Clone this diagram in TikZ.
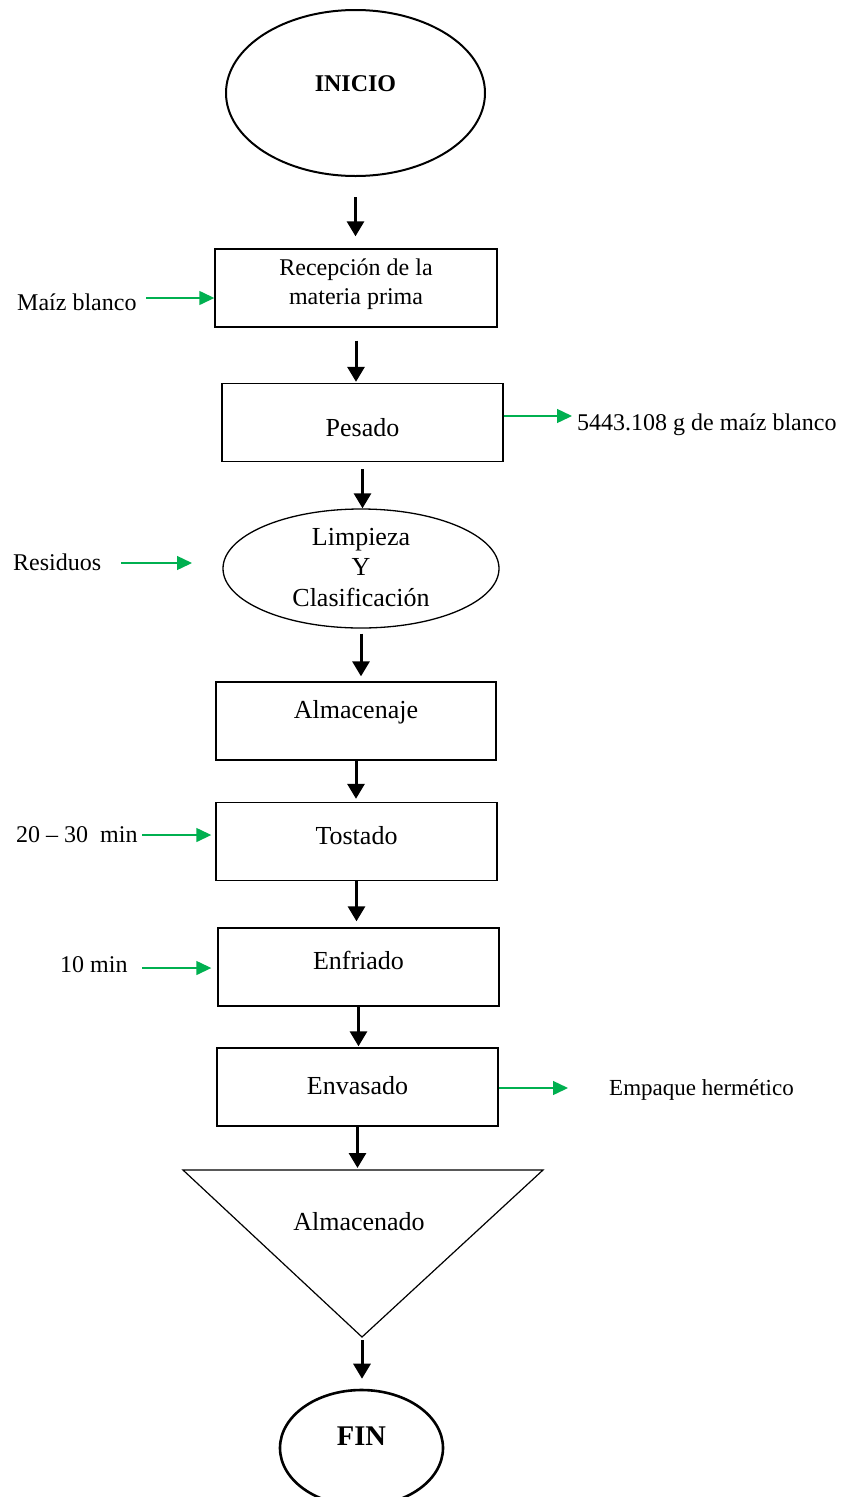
\documentclass[tikz,border=0pt]{standalone}
\usepackage{fontspec}
\setmainfont{Liberation Serif}
\usetikzlibrary{shapes.geometric,arrows.meta}
\definecolor{verde}{RGB}{0,176,80}

\begin{document}
\begin{tikzpicture}[
            x=1pt, y=-1pt,
            box/.style={rectangle, draw=black, line width=1.4pt, minimum width=281pt, minimum height=78pt, font=\fontsize{26}{30}\selectfont},
            oval/.style={ellipse, draw=black},
            lbl/.style={inner sep=0pt, anchor=base west, font=\fontsize{24}{29}\selectfont},
            flow/.style={-{Triangle[length=15pt,width=17pt]}, line width=3pt},
            entrada/.style={-{Triangle[length=15pt,width=14pt]}, color=verde, line width=1.4pt}
        ]
        \useasboundingbox (0,0) rectangle (841,1497);

        %start / end
        \node[oval, line width=2pt, minimum width=259pt, minimum height=166pt, font=\bfseries\fontsize{24}{29}\selectfont, text height=0pt, text depth=4pt] (inicio) at (355.5,93) {INICIO};
        \node[oval, line width=2.6pt, minimum width=163pt, minimum height=116pt, font=\bfseries\fontsize{28.5}{33}\selectfont, text height=0pt, text depth=6pt] (fin) at (361.5,1448) {FIN};

        %blocks
        \node[box, minimum width=282pt, font=\fontsize{24}{29}\selectfont, align=center, text height=32pt, text depth=0pt] (recep) at (356,288) {Recepción de la\\materia prima};
        \node[box, text height=27pt, text depth=0pt] (pesado) at (362.5,422.5) {Pesado};
        \node[oval, line width=1.3pt, minimum width=276pt, minimum height=119pt, font=\fontsize{26}{30.5}\selectfont, align=center, text height=75pt, text depth=0pt] (limp) at (361,568.5) {Limpieza\\Y\\Clasificación};
        \node[box, minimum width=280pt, text height=0pt, text depth=6pt] (alm) at (356,721) {Almacenaje};
        \node[box, text height=5pt, text depth=0pt] (tost) at (356.5,841.5) {Tostado};
        \node[box, text height=4pt, text depth=0pt] (enfr) at (358.5,967) {Enfriado};
        \node[box, text height=14pt, text depth=0pt] (envas) at (357.5,1087) {Envasado};

        %storage triangle
        \coordinate (triL) at (183,1170);
        \coordinate (triR) at (543,1170);
        \coordinate (triT) at (360,1170);
        \coordinate (triB) at (362,1337);
        \draw[line width=1.2pt] (triL) -- (triR) -- (triB) -- cycle;
        \node[inner sep=0pt, anchor=base, font=\fontsize{26}{30}\selectfont] (almdo) at (359,1230) {Almacenado};

        %side labels
        \node[lbl] (maiz) at (17,310) {Maíz blanco};
        \node[lbl] (peso) at (577,430) {5443.108 g de maíz blanco};
        \node[lbl] (resid) at (13,570) {Residuos};
        \node[lbl] (tiempo) at (16,842) {20 – 30\ \ min};
        \node[lbl] (diez) at (60,972) {10 min};
        \node[lbl, font=\fontsize{23}{28}\selectfont] (empaque) at (609,1095) {Empaque hermético};

        %green arrow ends
        \coordinate (maizA) at (146,298);
        \coordinate (pesoB) at (572,416);
        \coordinate (resA) at (121,563);
        \coordinate (resB) at (192,563);
        \coordinate (tostA) at (142,835);
        \coordinate (enfrA) at (142,968);
        \coordinate (envB) at (568,1088);

        %green arrows
        \draw[entrada] (maizA) -- (maizA -| recep.west);
        \draw[entrada] (pesoB -| pesado.east) -- (pesoB);
        \draw[entrada] (resA) -- (resB);
        \draw[entrada, shorten >=4pt] (tostA) -- (tostA -| tost.west);
        \draw[entrada, shorten >=6pt] (enfrA) -- (enfrA -| enfr.west);
        \draw[entrada] (envB -| envas.east) -- (envB);

        %flow arrows
        \draw[flow, shorten <=20pt, shorten >=12pt] (inicio.south) -- (inicio.south |- recep.north);
        \draw[flow, shorten <=13pt, shorten >=1pt] (recep.south) -- (recep.south |- pesado.north);
        \draw[flow, shorten <=7pt] (pesado.south) -- (pesado.south |- limp.north);
        \draw[flow, shorten <=5pt, shorten >=5pt] (limp.south) -- (limp.south |- alm.north);
        \draw[flow, shorten >=3pt] (alm.south) -- (alm.south |- tost.north);
        \draw[flow, shorten >=6pt] (tost.south) -- (tost.south |- enfr.north);
        \draw[flow, shorten >=1pt] (enfr.south) -- (enfr.south |- envas.north);
        \draw[flow, shorten >=2pt] (envas.south) -- (envas.south |- triT);
        \draw[flow, shorten <=3pt, shorten >=10pt] (triB) -- (triB |- fin.north);

\end{tikzpicture}
\end{document}
